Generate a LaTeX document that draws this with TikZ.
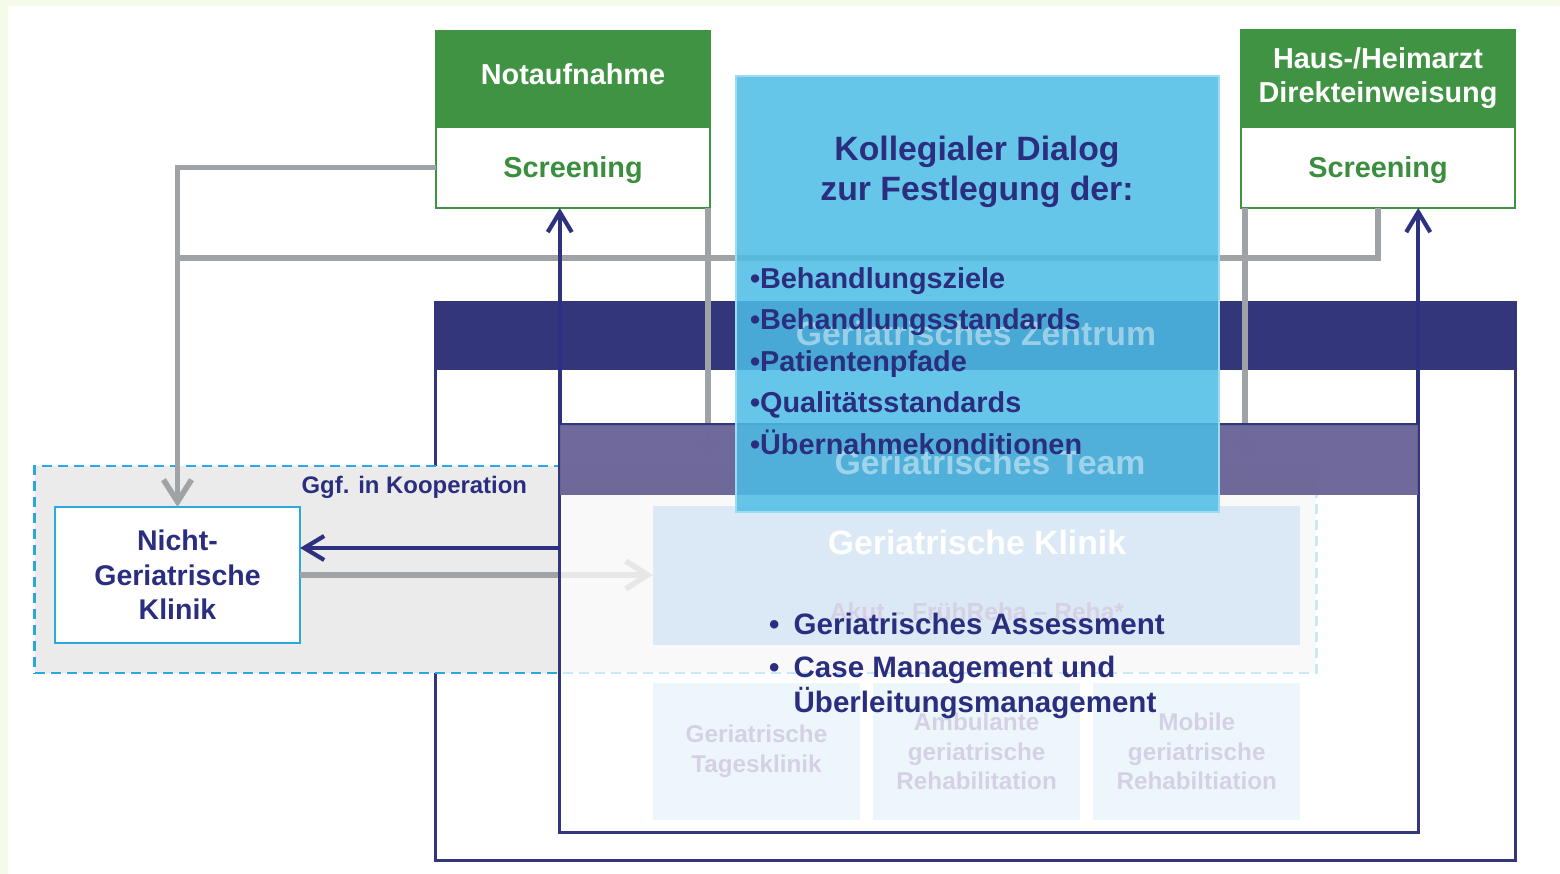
\documentclass[tikz,border=0pt]{standalone}
\usepackage{fontspec}
\setmainfont{Liberation Sans}
\usetikzlibrary{positioning}
\usetikzlibrary{arrows.meta}

\definecolor{edgegreen}{HTML}{F4FCE9}
\definecolor{hdrgreen}{HTML}{409343}
\definecolor{scrgreen}{HTML}{3A8E3D}
\definecolor{navy}{HTML}{34367B}
\definecolor{arrownavy}{HTML}{2E3180}
\definecolor{textnavy}{HTML}{2B2E7E}
\definecolor{teampurple}{HTML}{6A6497}
\definecolor{dialogblue}{RGB}{76,189,230}
\definecolor{linegrey}{HTML}{A0A3A6}
\definecolor{coopgrey}{HTML}{EBEBEB}
\definecolor{coopblue}{HTML}{2AA9E0}
\definecolor{klinikraw}{RGB}{115,167,219}
\definecolor{subraw}{RGB}{183,223,243}
\definecolor{subtext}{RGB}{91,71,155}

\tikzset{
  every node/.style={inner sep=0pt, outer sep=0pt},
  hdr/.style={draw=hdrgreen, line width=0.6pt, fill=hdrgreen, text=white,
    minimum width=2.74cm, minimum height=0.96cm, align=center,
    font=\bfseries\fontsize{8.2}{9.7}\selectfont},
  scr/.style={draw=hdrgreen, line width=0.6pt, fill=white, text=scrgreen,
    minimum width=2.74cm, minimum height=0.81cm, text depth=0pt,
    font=\bfseries\fontsize{8.2}{9.7}\selectfont},
  subbox/.style={fill=subraw, minimum width=2.07cm, minimum height=1.37cm,
    align=center, text=subtext, font=\bfseries\fontsize{6.9}{8.4}\selectfont},
  greyline/.style={draw=linegrey, line width=1.6pt},
  navyline/.style={draw=arrownavy, line width=1.2pt},
  greytip/.style={-{Straight Barb[length=2.2mm,width=2.8mm]}},
  navytip/.style={-{Straight Barb[length=2mm,width=2.4mm]}},
  fadelabel/.style={text=white, text opacity=0.45,
    font=\bfseries\fontsize{9.6}{11}\selectfont},
}

\begin{document}
\begin{tikzpicture}[x=0.01cm, y=-0.01cm]
  \useasboundingbox (0,0) rectangle (1560,874);
  \fill[edgegreen] (0,0) rectangle (1560,874);
  \fill[white] (8,6) rectangle (1560,874);

  % Geriatrisches Zentrum
  \node[draw=navy, line width=0.8pt, fill=white, minimum width=10.79cm,
    minimum height=5.57cm] (zent) at (975.5,581.5) {};
  \node[fill=navy, minimum width=10.79cm, minimum height=0.67cm,
    below=0pt of zent.north] (zbar) {};

  % Kooperation
  \node[draw=coopblue, dash pattern=on 1mm off 0.6mm, line width=0.8pt,
    fill=coopgrey, minimum width=12.81cm, minimum height=2.07cm] (coop) at (675.5,569.5) {};
  \node[text=textnavy, anchor=east, font=\bfseries\fontsize{6.8}{8}\selectfont]
    (cooptext) at (527,487) {Ggf. in Kooperation};
  \node[draw=coopblue, line width=0.7pt, fill=white, minimum width=2.45cm,
    minimum height=1.36cm, align=center, text=textnavy,
    font=\bfseries\fontsize{8.1}{9.8}\selectfont] (ngk) at (177.5,575)
    {Nicht-\\Geriatrische\\Klinik};

  % Geriatrische Klinik und Angebote
  \node[fill=klinikraw, minimum width=6.47cm, minimum height=1.39cm] (klinik) at (976.5,575.5) {};
  \node[text=white, font=\bfseries\fontsize{9.6}{11}\selectfont] (klinikname) at (977,542)
    {Geriatrische Klinik};
  \node[text=subtext, font=\bfseries\fontsize{7}{8}\selectfont] (phasen) at (977,612)
    {Akut – FrühReha – Reha*};
  \node[subbox] (tages) at (756.5,751.5) {Geriatrische\\Tagesklinik};
  \node[subbox, right=0.13cm of tages] (ambulant) {Ambulante\\geriatrische\\Rehabilitation};
  \node[subbox, right=0.13cm of ambulant] (mobil) {Mobile\\geriatrische\\Rehabiltiation};

  % Zugaenge
  \node[hdr] (nhead) at (573,79) {\raisebox{1.5pt}[\height][\depth]{Notaufnahme}};
  \node[scr, below=0pt of nhead] (nscr) {Screening};
  \node[hdr] (hhead) at (1378,78) {Haus-/Heimarzt\\Direkteinweisung};
  \node[scr, below=0pt of hhead, yshift=-0.01cm] (hscr) {Screening};

  % graue Wege
  \coordinate (join) at (178,258);
  \coordinate (ndrop) at (708,462);
  \coordinate (hdrop) at (1245,462);
  \draw[greyline, greytip] (nscr.west) -| (ngk.north);
  \draw[greyline] (hscr.south) |- (join);
  \draw[greyline, greytip] (nscr.south east -| ndrop) -- (ndrop);
  \draw[greyline, greytip] (hscr.south west -| hdrop) -- (hdrop);
  \draw[greyline, greytip] (ngk.east) -- (ngk.east -| klinik.west);

  % Geriatrisches Team
  \node[draw=navy, line width=0.9pt, fill=white, fill opacity=0.75,
    minimum width=8.58cm, minimum height=4.07cm] (team) at (989,628.5) {};
  \node[fill=teampurple, fill opacity=0.96, minimum width=8.58cm,
    minimum height=0.70cm, below=0pt of team.north] (tbar) {};

  % Rueckwege
  \coordinate (back) at (430,548);
  \draw[navyline, navytip] (team.north west) -- (team.north west |- nscr.south);
  \draw[navyline, navytip] (team.north east) -- (team.north east |- hscr.south);
  \draw[navyline, navytip] (team.west |- back) -- (ngk.east |- back);

  % Kollegialer Dialog
  \node[fill=dialogblue, fill opacity=0.85, draw=dialogblue!55!white, line width=0.6pt,
    minimum width=4.83cm, minimum height=4.36cm] (dialog) at (977.5,294) {};
  \node[fadelabel] (zname) at (976,333) {Geriatrisches Zentrum};
  \node[fadelabel] (tname) at (990,462) {Geriatrisches Team};
  \node[text=textnavy, align=center, font=\bfseries\fontsize{9.6}{11.4}\selectfont]
    (dtitle) at (977,172) {Kollegialer Dialog\\zur Festlegung der:};
  \node[text=textnavy, align=left, anchor=west, font=\bfseries\fontsize{8.2}{11.8}\selectfont]
    (dlist) at (750,361)
    {•Behandlungsziele\\•Behandlungsstandards\\•Patientenpfade\\•Qualitätsstandards\\•Übernahmekonditionen};

  % Aufgaben
  \node[text=textnavy, align=left, anchor=west, font=\bfseries\fontsize{8.4}{10}\selectfont]
    (tasks) at (769,666)
    {\makebox[7pt][l]{•}Geriatrisches Assessment\\[2pt]
     \makebox[7pt][l]{•}Case Management und\\
     \hspace*{7pt}Überleitungsmanagement};
\end{tikzpicture}
\end{document}
